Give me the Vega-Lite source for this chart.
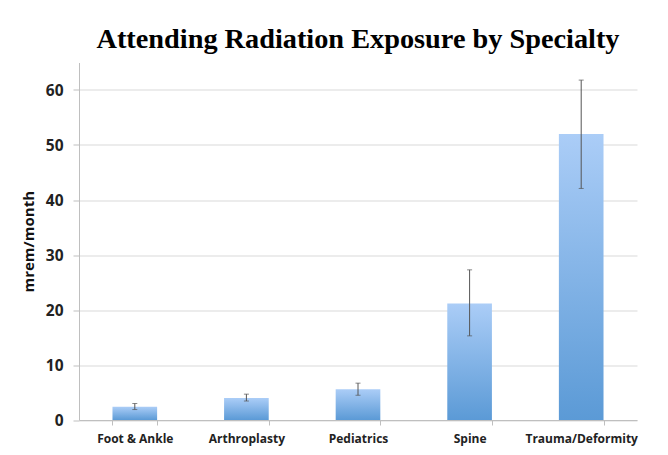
{
  "$schema": "https://vega.github.io/schema/vega-lite/v6.json",
  "width": 558,
  "height": 357.5,
  "autosize": "none",
  "padding": {"left": 79, "top": 62.5, "right": 31, "bottom": 35},
  "background": "white",
  "title": {
    "text": "Attending Radiation Exposure by Specialty",
    "font": "Liberation Serif",
    "fontSize": 28.3,
    "fontWeight": "bold",
    "color": "#000000",
    "anchor": "middle",
    "offset": 8
  },
  "data": {
    "values": [
      {"specialty": "Foot & Ankle", "mean": 2.4, "low": 1.9, "high": 3.0},
      {"specialty": "Arthroplasty", "mean": 4.0, "low": 3.45, "high": 4.7},
      {"specialty": "Pediatrics", "mean": 5.6, "low": 4.5, "high": 6.7},
      {"specialty": "Spine", "mean": 21.2, "low": 15.3, "high": 27.3},
      {"specialty": "Trauma/Deformity", "mean": 52.0, "low": 42.1, "high": 61.8}
    ]
  },
  "encoding": {
    "x": {
      "field": "specialty",
      "type": "nominal",
      "sort": null,
      "scale": {"paddingInner": 0.6, "paddingOuter": 0.3},
      "axis": {
        "title": null,
        "labelAngle": 0,
        "labelFont": "Open Sans",
        "labelFontWeight": "bold",
        "labelFontSize": 12,
        "labelColor": "#222222",
        "labelPadding": 8,
        "domainColor": "#bfbfbf",
        "tickColor": "#bfbfbf",
        "tickSize": 5,
        "tickBand": "extent",
        "grid": false
      }
    }
  },
  "layer": [
    {
      "mark": {
        "type": "bar",
        "color": {
          "gradient": "linear",
          "x1": 0, "y1": 0, "x2": 0, "y2": 1,
          "stops": [
            {"offset": 0, "color": "#abcdf7"},
            {"offset": 1, "color": "#5b9ad6"}
          ]
        }
      },
      "encoding": {
        "y": {
          "field": "mean",
          "type": "quantitative",
          "scale": {"domain": [0, 65], "nice": false},
          "axis": {
            "values": [0, 10, 20, 30, 40, 50, 60],
            "title": "mrem/month",
            "titleFont": "Open Sans",
            "titleFontSize": 15,
            "titleFontWeight": "bold",
            "titleColor": "#111111",
            "titlePadding": 9,
            "labelFont": "Open Sans",
            "labelFontSize": 15.5,
            "labelFontWeight": "bold",
            "labelColor": "#222222",
            "labelPadding": 10,
            "tickSize": 6,
            "tickColor": "#bfbfbf",
            "domainColor": "#bfbfbf",
            "gridColor": "#d9d9d9"
          }
        }
      }
    },
    {
      "mark": {"type": "rule", "color": "#555555", "strokeWidth": 1},
      "encoding": {
        "y": {"field": "low", "type": "quantitative"},
        "y2": {"field": "high"}
      }
    },
    {
      "mark": {"type": "tick", "color": "#555555", "size": 5, "thickness": 1},
      "encoding": {"y": {"field": "low", "type": "quantitative"}}
    },
    {
      "mark": {"type": "tick", "color": "#555555", "size": 5, "thickness": 1},
      "encoding": {"y": {"field": "high", "type": "quantitative"}}
    }
  ],
  "config": {"view": {"stroke": null}}
}
